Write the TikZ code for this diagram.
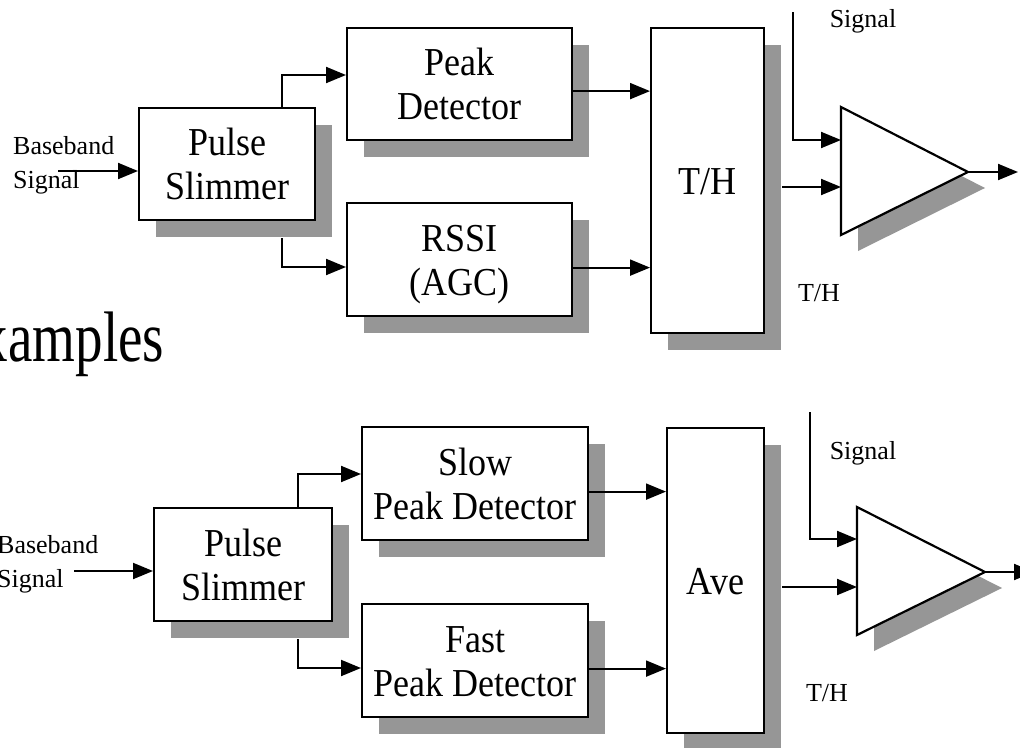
\documentclass[tikz,border=0pt]{standalone}
\usepackage{graphicx}
\usepackage{fontspec}
\setmainfont{Liberation Serif}
\usetikzlibrary{arrows.meta,shadows,calc}
\definecolor{shadowgray}{RGB}{150,150,150}
\newcommand{\stretchtxt}[1]{\raisebox{-5pt}[\height][\depth]{\scalebox{1}[1.1]{\begin{tabular}{@{}c@{}}#1\end{tabular}}}}
\begin{document}
\begin{tikzpicture}[x=1pt,y=-1pt,
  blk/.style={draw, line width=2.2pt, fill=white, inner sep=0pt, align=center,
    font=\fontsize{36}{40}\selectfont,
    drop shadow={shadow xshift=17pt, shadow yshift=-17pt, fill=shadowgray, opacity=1}},
  lbl/.style={font=\fontsize{26}{34}\selectfont, inner sep=0pt, align=left},
  wire/.style={line width=2pt},
  arr/.style={wire, -{Triangle[length=20pt,width=16pt]}},
  tri/.style={line width=2.2pt, fill=white, line join=miter},
  trishadow/.style={fill=shadowgray},
]
\useasboundingbox (0,0) rectangle (1020,747);

% title fragment
\node[anchor=base west, inner sep=0pt, font=\fontsize{55}{60}\selectfont] (title) at (-53,361) {\scalebox{1}[1.3]{Examples}};

% ---------------- top diagram ----------------
\node[blk, minimum width=176pt, minimum height=112pt, anchor=north west] (ps1) at (138,107) {\stretchtxt{Pulse\\Slimmer}};
\node[blk, minimum width=225pt, minimum height=112pt, anchor=north west] (pd) at (346,27) {\stretchtxt{Peak\\Detector}};
\node[blk, minimum width=225pt, minimum height=113pt, anchor=north west] (rssi) at (346,202) {\stretchtxt{RSSI\\(AGC)}};
\node[blk, minimum width=113pt, minimum height=305pt, anchor=north west] (th) at (650,27) {\stretchtxt{T/H}};

\coordinate (A1) at (841,107);
\coordinate (B1) at (841,235);
\coordinate (C1) at (968,172);
\fill[trishadow] ($(A1)+(17,16)$) -- ($(B1)+(17,16)$) -- ($(C1)+(17,16)$) -- cycle;
\draw[tri] (A1) -- (B1) -- (C1) -- cycle;
\coordinate (in1a) at (841,140);
\coordinate (in1b) at (841,187);

\node[lbl, anchor=west] (bb1) at (13,165) {Baseband\\Signal};
\node[lbl] (sig1) at (863,21) {Signal};
\node[lbl] (thl1) at (819,293) {T/H};

\coordinate (bbs1) at (58,171);
\draw[arr] (bbs1) -- (ps1.west |- bbs1);
\coordinate (b1u) at (282,75);
\coordinate (b1d) at (282,267);
\draw[arr] (ps1.north -| b1u) -- (b1u) -- (pd.west |- b1u);
\draw[arr] ($(ps1.south -| b1d)+(0,17)$) -- (b1d) -- (rssi.west |- b1d);
\coordinate (p1) at ($(pd.east)+(0,7)$);
\draw[arr] (p1) -- (th.west |- p1);
\coordinate (r1) at ($(rssi.east)+(0,8)$);
\draw[arr] (r1) -- (th.west |- r1);
\draw[arr] ($(th.east |- in1b)+(17,0)$) -- (in1b);
\coordinate (s1) at (793,12);
\draw[arr] (s1) -- (s1 |- in1a) -- (in1a);
\coordinate (o1) at (1018,172);
\draw[arr] (C1) -- (o1);

% ---------------- bottom diagram ----------------
\node[blk, minimum width=178pt, minimum height=113pt, anchor=north west] (ps2) at (153,507) {\stretchtxt{Pulse\\Slimmer}};
\node[blk, minimum width=226pt, minimum height=113pt, anchor=north west] (slow) at (361,426) {\stretchtxt{Slow\\Peak Detector}};
\node[blk, minimum width=226pt, minimum height=113pt, anchor=north west] (fast) at (361,603) {\stretchtxt{Fast\\Peak Detector}};
\node[blk, minimum width=97pt, minimum height=305pt, anchor=north west] (ave) at (666,427) {\stretchtxt{Ave}};

\coordinate (A2) at (857,507);
\coordinate (B2) at (857,635);
\coordinate (C2) at (985,572);
\fill[trishadow] ($(A2)+(17,16)$) -- ($(B2)+(17,16)$) -- ($(C2)+(17,16)$) -- cycle;
\draw[tri] (A2) -- (B2) -- (C2) -- cycle;
\coordinate (in2a) at (857,539);
\coordinate (in2b) at (857,587);

\node[lbl, anchor=west] (bb2) at (-3,564) {Baseband\\Signal};
\node[lbl] (sig2) at (863,453) {Signal};
\node[lbl] (thl2) at (827,693) {T/H};

\coordinate (bbs2) at (74,571);
\draw[arr] (bbs2) -- (ps2.west |- bbs2);
\coordinate (b2u) at (298,474);
\coordinate (b2d) at (298,668);
\draw[arr] (ps2.north -| b2u) -- (b2u) -- (slow.west |- b2u);
\draw[arr] ($(ps2.south -| b2d)+(0,17)$) -- (b2d) -- (fast.west |- b2d);
\coordinate (p2) at ($(slow.east)+(0,8)$);
\draw[arr] (p2) -- (ave.west |- p2);
\coordinate (r2) at ($(fast.east)+(0,8)$);
\draw[arr] (r2) -- (ave.west |- r2);
\draw[arr] ($(ave.east |- in2b)+(17,0)$) -- (in2b);
\coordinate (s2) at (810,412);
\draw[arr] (s2) -- (s2 |- in2a) -- (in2a);
\coordinate (o2) at (1034,572);
\draw[arr] (C2) -- (o2);
\end{tikzpicture}
\end{document}
